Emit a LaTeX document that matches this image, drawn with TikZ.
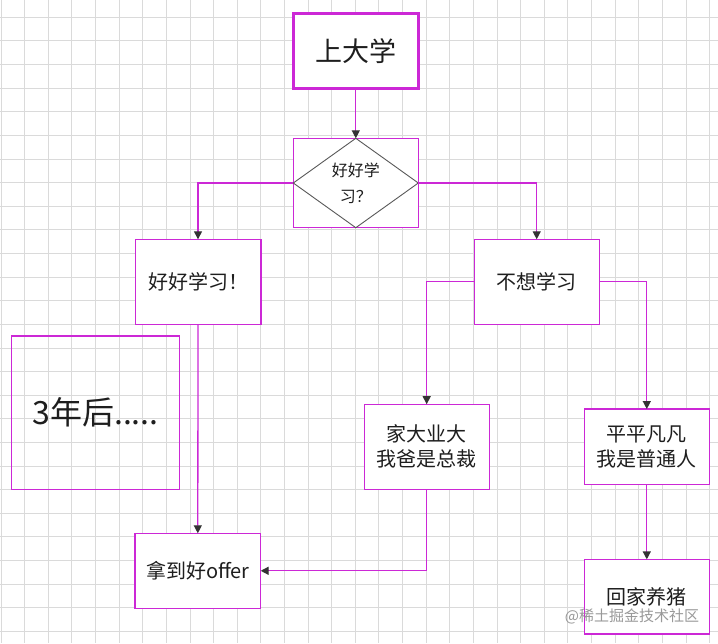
\documentclass[tikz,border=0pt]{standalone}
\usepackage{fontspec}
\setmainfont{Noto Sans CJK SC}
\usepackage{tikz}
\usetikzlibrary{arrows.meta}
\definecolor{boxpink}{RGB}{204,40,214}
\definecolor{gridgray}{RGB}{218,218,218}
\definecolor{inkdark}{RGB}{30,30,30}

\begin{document}
\begin{tikzpicture}[x=1pt,y=-1pt,
  box/.style={draw=boxpink, line width=1.3pt, fill=white, minimum width=125pt, minimum height=85pt, inner sep=0pt, outer sep=0pt, text=inkdark, align=center, font=\fontsize{20}{25}\selectfont},
  flow/.style={draw=boxpink, line width=1.3pt, -{Triangle[length=8pt,width=8pt,color=black!80]}}]
\useasboundingbox (0,0) rectangle (718,643);
\fill[white] (0,0) rectangle (718,643);
% Grid
\foreach \i in {0,...,30} {
  \draw[gridgray, line width=0.9pt] (1+23.62*\i,0) -- (1+23.62*\i,643);
}
\foreach \j in {0,...,26} {
  \draw[gridgray, line width=0.9pt] (0,17.3+23.62*\j) -- (718,17.3+23.62*\j);
}
% Boxes
\node[box, line width=3pt, minimum height=75pt, font=\fontsize{27}{30}\selectfont] (start) at (355.8,50.8) {上大学};
\node[box, minimum height=89.4pt, font=\fontsize{16}{26}\selectfont] (decide) at (355.8,183) {好好学\\习？};
\draw[black!65, line width=0.9pt] (decide.north) -- (decide.east) -- (decide.south) -- (decide.west) -- cycle;
\node[box, minimum width=125.7pt] (study) at (198,281.8) {好好学习！};
\node[box] (nostudy) at (536.7,281.8) {不想学习};
\node[box] (rich) at (426.7,446.7) {家大业大\\我爸是总裁};
\node[box, minimum height=75.3pt] (plain) at (646.8,446.7) {平平凡凡\\我是普通人};
\node[box, minimum height=74.7pt] (pig) at (646.8,596.7) {回家养猪};
\node[box, minimum width=125.7pt, minimum height=75pt] (offer) at (197.8,570.8) {拿到好offer};
\node[box, fill=none, minimum width=167.6pt, minimum height=153.3pt, font=\fontsize{32}{36}\selectfont] (later) at (95.5,412.7) {3年后.....};
% Arrows
\draw[flow] (start.south) -- (decide.north);
\draw[flow] (decide.west) -| (study.north);
\draw[flow] (decide.east) -| (nostudy.north);
\draw[flow] (study.south) -- (offer.north);
\draw[flow] (nostudy.west) -| (rich.north);
\draw[flow] (nostudy.east) -| (plain.north);
\draw[flow] (plain.south) -- (pig.north);
\draw[flow] (rich.south) |- (offer.east);
% Watermark
\node[text=black!40, font=\fontsize{15}{18}\selectfont] (mark) at (632,616) {@稀土掘金技术社区};
\end{tikzpicture}
\end{document}
